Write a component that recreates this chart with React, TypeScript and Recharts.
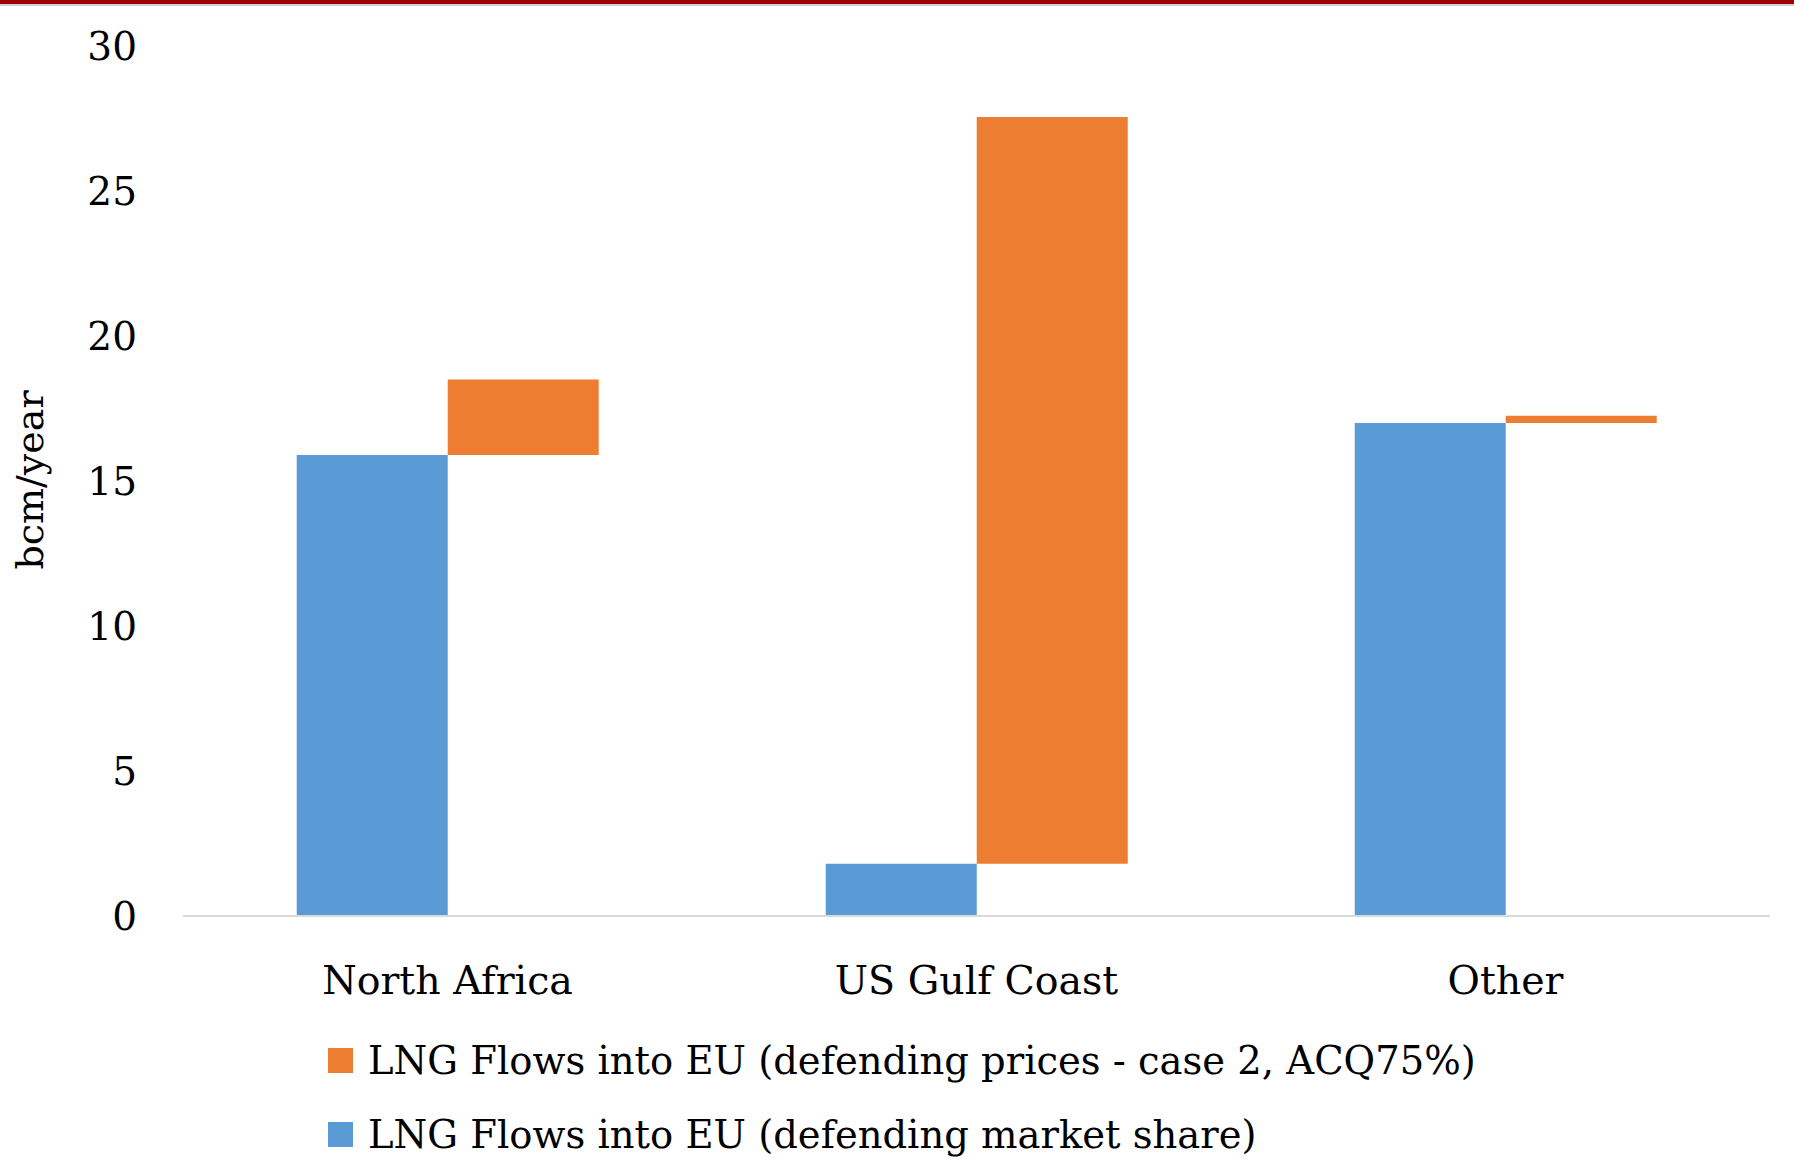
import React from 'react';
import { BarChart, Bar, XAxis, YAxis } from 'recharts';

const categories = ['North Africa', 'US Gulf Coast', 'Other'];
const marketShare = [15.9, 1.8, 17.0];
const defendingPrices = [18.5, 27.55, 17.25];
const yTicks = [0, 5, 10, 15, 20, 25, 30];

const BLUE = '#5B9BD5';
const ORANGE = '#ED7D31';
const FONT = '"DejaVu Serif", serif';

const data = categories.map((c, i) => ({
  name: c,
  share: marketShare[i],
  prices: [marketShare[i], defendingPrices[i]],
}));

const legendItems = [
  { label: 'LNG Flows into EU (defending prices - case 2, ACQ75%)', color: ORANGE },
  { label: 'LNG Flows into EU (defending market share)', color: BLUE },
];

const YTick = (props: any) => {
  const { y, payload } = props;
  return (
    <text x={137} y={y} dy={14} textAnchor="end" fontFamily={FONT} fontSize={39} fill="#000">
      {payload.value}
    </text>
  );
};

const XTick = (props: any) => {
  const { x, y, payload } = props;
  return (
    <text x={x} y={y} dy={70} textAnchor="middle" fontFamily={FONT} fontSize={39.5} fill="#000">
      {payload.value}
    </text>
  );
};

export default function App() {
  return (
    <div style={{ position: 'absolute', left: 0, top: 0, width: 1794, height: 1159, background: '#fff', overflow: 'hidden' }}>
      <div style={{ position: 'absolute', left: 0, top: 0, width: 1794, height: 4, background: '#A00000' }} />
      <div style={{ position: 'absolute', left: 0, top: 4, width: 1794, height: 2, background: '#D0D0D0' }} />
      <div
        style={{
          position: 'absolute',
          left: 30,
          top: 480,
          transform: 'translate(-50%, -50%) rotate(-90deg)',
          fontFamily: FONT,
          fontSize: 38,
          whiteSpace: 'nowrap',
        }}
      >
        bcm/year
      </div>
      <BarChart
        width={1794}
        height={1159}
        data={data}
        margin={{ top: 46, right: 24, bottom: 0, left: 0 }}
        barCategoryGap="21.5%"
        barGap={0}
      >
        <XAxis
          dataKey="name"
          axisLine={{ stroke: '#D9D9D9', strokeWidth: 2 }}
          tickLine={false}
          tick={<XTick />}
          height={243}
        />
        <YAxis
          domain={[0, 30]}
          ticks={yTicks}
          axisLine={false}
          tickLine={false}
          tick={<YTick />}
          width={183}
        />
        <Bar dataKey="share" fill={BLUE} isAnimationActive={false} />
        <Bar dataKey="prices" fill={ORANGE} isAnimationActive={false} />
      </BarChart>
      <div style={{ position: 'absolute', left: 328, top: 1023, fontFamily: FONT, fontSize: 38.5, color: '#000' }}>
        {legendItems.map((it, i) => (
          <div key={i} style={{ display: 'flex', alignItems: 'center', height: 74 }}>
            <span style={{ display: 'inline-block', width: 25, height: 25, background: it.color, marginRight: 15 }} />
            <span style={{ whiteSpace: 'nowrap' }}>{it.label}</span>
          </div>
        ))}
      </div>
    </div>
  );
}
